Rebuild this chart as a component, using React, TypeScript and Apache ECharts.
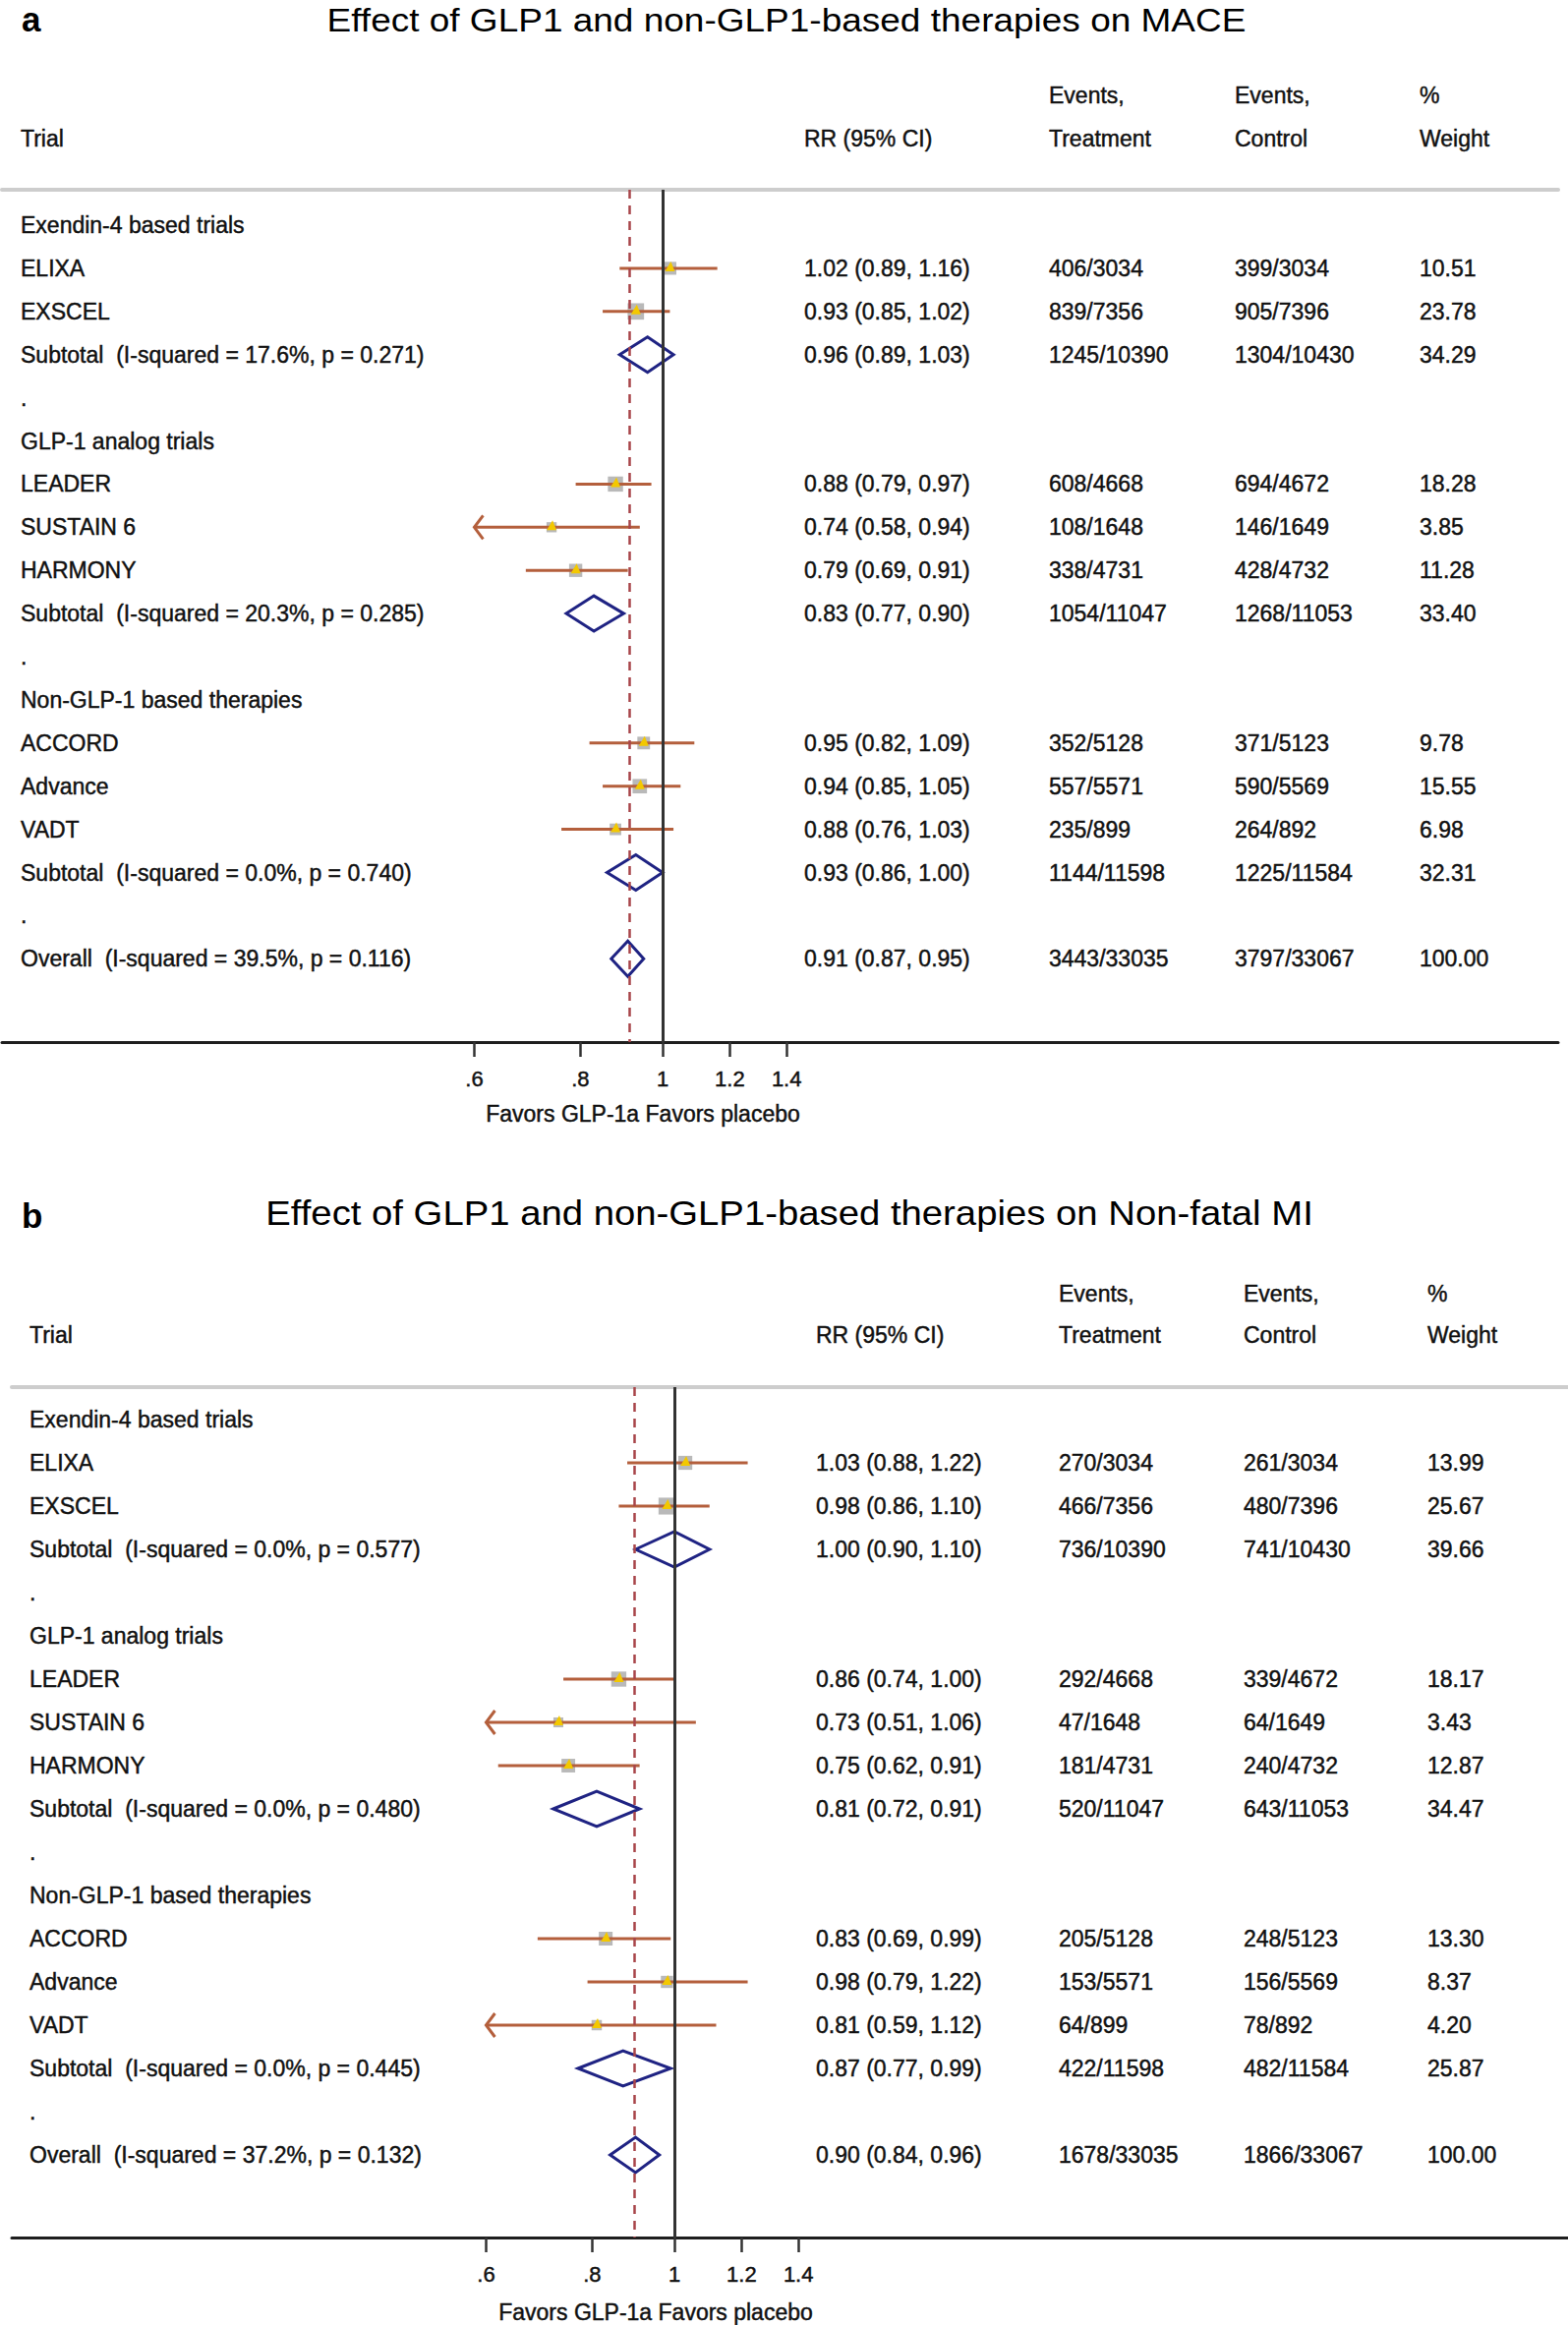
import React, { useEffect, useRef } from "react";
import * as echarts from "echarts";

const FONT = "'Liberation Sans', Arial, Helvetica, sans-serif";

// ---------- shared row structure ----------
const ROW_LABELS = [
  "Exendin-4 based trials", "ELIXA", "EXSCEL", "Subtotal", ".",
  "GLP-1 analog trials", "LEADER", "SUSTAIN 6", "HARMONY", "Subtotal", ".",
  "Non-GLP-1 based therapies", "ACCORD", "Advance", "VADT", "Subtotal", ".",
  "Overall",
];
const ROW_KINDS = [
  "group", "study", "study", "pooled", "blank",
  "group", "study", "study", "study", "pooled", "blank",
  "group", "study", "study", "study", "pooled", "blank",
  "pooled",
];
const HEAD_LINE_1 = ["", "", "Events,", "Events,", "%"];
const HEAD_LINE_2 = ["Trial", "RR (95% CI)", "Treatment", "Control", "Weight"];
const TICKS = [0.6, 0.8, 1, 1.2, 1.4];
const CLIP_MIN = 0.6;
const AXIS_TITLE = "Favors GLP-1a Favors placebo";

// ---------- panel a: MACE ----------
const A_LETTER = "a";
const A_TITLE = "Effect of GLP1 and non-GLP1-based therapies on MACE";
const A_RR = [null, 1.02, 0.93, 0.96, null, null, 0.88, 0.74, 0.79, 0.83, null, null, 0.95, 0.94, 0.88, 0.93, null, 0.91];
const A_LO = [null, 0.89, 0.85, 0.89, null, null, 0.79, 0.58, 0.69, 0.77, null, null, 0.82, 0.85, 0.76, 0.86, null, 0.87];
const A_HI = [null, 1.16, 1.02, 1.03, null, null, 0.97, 0.94, 0.91, 0.90, null, null, 1.09, 1.05, 1.03, 1.00, null, 0.95];
const A_EVT_T = [null, "406/3034", "839/7356", "1245/10390", null, null, "608/4668", "108/1648", "338/4731", "1054/11047", null, null, "352/5128", "557/5571", "235/899", "1144/11598", null, "3443/33035"];
const A_EVT_C = [null, "399/3034", "905/7396", "1304/10430", null, null, "694/4672", "146/1649", "428/4732", "1268/11053", null, null, "371/5123", "590/5569", "264/892", "1225/11584", null, "3797/33067"];
const A_WEIGHT = [null, 10.51, 23.78, 34.29, null, null, 18.28, 3.85, 11.28, 33.40, null, null, 9.78, 15.55, 6.98, 32.31, null, 100.00];
const A_I2 = [17.6, 20.3, 0.0, 39.5];
const A_P = [0.271, 0.285, 0.740, 0.116];

// ---------- panel b: Non-fatal MI ----------
const B_LETTER = "b";
const B_TITLE = "Effect of GLP1 and non-GLP1-based therapies on Non-fatal MI";
const B_RR = [null, 1.03, 0.98, 1.00, null, null, 0.86, 0.73, 0.75, 0.81, null, null, 0.83, 0.98, 0.81, 0.87, null, 0.90];
const B_LO = [null, 0.88, 0.86, 0.90, null, null, 0.74, 0.51, 0.62, 0.72, null, null, 0.69, 0.79, 0.59, 0.77, null, 0.84];
const B_HI = [null, 1.22, 1.10, 1.10, null, null, 1.00, 1.06, 0.91, 0.91, null, null, 0.99, 1.22, 1.12, 0.99, null, 0.96];
const B_EVT_T = [null, "270/3034", "466/7356", "736/10390", null, null, "292/4668", "47/1648", "181/4731", "520/11047", null, null, "205/5128", "153/5571", "64/899", "422/11598", null, "1678/33035"];
const B_EVT_C = [null, "261/3034", "480/7396", "741/10430", null, null, "339/4672", "64/1649", "240/4732", "643/11053", null, null, "248/5123", "156/5569", "78/892", "482/11584", null, "1866/33067"];
const B_WEIGHT = [null, 13.99, 25.67, 39.66, null, null, 18.17, 3.43, 12.87, 34.47, null, null, 13.30, 8.37, 4.20, 25.87, null, 100.00];
const B_I2 = [0.0, 0.0, 0.0, 37.2];
const B_P = [0.577, 0.480, 0.445, 0.132];

const PANELS = [
  { letter: A_LETTER, title: A_TITLE, rr: A_RR, lo: A_LO, hi: A_HI, evtT: A_EVT_T, evtC: A_EVT_C, weight: A_WEIGHT, i2: A_I2, p: A_P },
  { letter: B_LETTER, title: B_TITLE, rr: B_RR, lo: B_LO, hi: B_HI, evtT: B_EVT_T, evtC: B_EVT_C, weight: B_WEIGHT, i2: B_I2, p: B_P },
];

// ---------- layout (pixels) ----------
const PX_PER_LN = 375;
const LAYOUT = [
  { letterX: 22, letterY: 19, titleX: 800, titleY: 20, titleSize: 37, head1Y: 97, head2Y: 141, top: 193, axisY: 1060, left: 2, right: 1585, zeroX: 674, row0: 229, step: 43.9, cols: [21, 818, 1067, 1256, 1444], favorsX: 654, favorsY: 1133 },
  { letterX: 22, letterY: 1236, titleX: 803, titleY: 1234, titleSize: 38.3, head1Y: 1316, head2Y: 1358, top: 1411, axisY: 2276, left: 12, right: 1595, zeroX: 686, row0: 1444, step: 44, cols: [30, 830, 1077, 1265, 1452], favorsX: 667, favorsY: 2352 },
];

const CI_COLOR = "#b45f3c";
const BOX_COLOR = "#b9b9b9";
const EST_COLOR = "#f3c800";
const DIAMOND_COLOR = "#1f2383";
const TEXT_COLOR = "#111";
const TABLE_FONT_SIZE = 23;
const TEXT_BORDER = 0.45;

const POOLED_ROWS = ROW_KINDS.map((k, i) => (k === "pooled" ? i : -1)).filter((i) => i >= 0);

function fmtTick(v: number) {
  const s = String(Math.round(v * 10) / 10);
  return s.startsWith("0.") ? s.slice(1) : s;
}

function rowTexts(d: any, i: number): (string | null)[] {
  const kind = ROW_KINDS[i];
  if (kind === "group" || kind === "blank") return [ROW_LABELS[i]];
  const rr = `${d.rr[i].toFixed(2)} (${d.lo[i].toFixed(2)}, ${d.hi[i].toFixed(2)})`;
  let label = ROW_LABELS[i];
  if (kind === "pooled") {
    const j = POOLED_ROWS.indexOf(i);
    label = `${ROW_LABELS[i]}  (I-squared = ${d.i2[j].toFixed(1)}%, p = ${d.p[j].toFixed(3)})`;
  }
  return [label, rr, d.evtT[i], d.evtC[i], d.weight[i].toFixed(2)];
}

function tableStyle(text: string, extra: any = {}) {
  return {
    text, fill: TEXT_COLOR, fontSize: TABLE_FONT_SIZE, fontFamily: FONT,
    align: "left", verticalAlign: "middle",
    stroke: TEXT_COLOR, lineWidth: TEXT_BORDER,
    ...extra,
  };
}

function buildOption() {
  const grid: any[] = [];
  const xAxis: any[] = [];
  const yAxis: any[] = [];
  const series: any[] = [];
  const graphics: any[] = [];

  PANELS.forEach((d, k) => {
    const L = LAYOUT[k];
    const xMin = (L.left - L.zeroX) / PX_PER_LN;
    const xMax = (L.right - L.zeroX) / PX_PER_LN;
    const yMin = -(L.row0 - L.top) / L.step;
    const yMax = yMin + (L.axisY - L.top) / L.step;
    grid.push({ left: L.left, top: L.top, width: L.right - L.left, height: L.axisY - L.top, containLabel: false });
    const tickVals = TICKS.map((t) => Math.log(t));
    xAxis.push({
      gridIndex: k, type: "value", position: "bottom", min: xMin, max: xMax,
      axisLine: { show: true, onZero: false, lineStyle: { color: "#1e1e1e", width: 3 } },
      axisTick: { show: true, customValues: tickVals, length: 15, lineStyle: { color: "#333", width: 2.5 } },
      axisLabel: {
        show: true, customValues: tickVals, formatter: (v: number) => fmtTick(Math.exp(v)),
        margin: 26, fontSize: 22, color: TEXT_COLOR, fontFamily: FONT,
        textBorderColor: TEXT_COLOR, textBorderWidth: TEXT_BORDER,
      },
      splitLine: { show: false },
    });
    xAxis.push({
      gridIndex: k, type: "value", position: "top", min: xMin, max: xMax,
      axisLine: { show: true, onZero: false, lineStyle: { color: "#cdcdcd", width: 4 } },
      axisTick: { show: false }, axisLabel: { show: false }, splitLine: { show: false },
    });
    yAxis.push({ gridIndex: k, type: "value", inverse: true, min: yMin, max: yMax, show: false });

    const xi = 2 * k;
    const yi = k;

    // table text
    series.push({
      type: "custom", xAxisIndex: xi, yAxisIndex: yi, clip: false, silent: true, z: 4,
      data: ROW_LABELS.map((_, i) => [0, i]),
      encode: { x: 0, y: 1 },
      renderItem: (params: any, api: any) => {
        const i = api.value(1);
        const y = api.coord([0, i])[1];
        const texts = rowTexts(d, i);
        const children: any[] = [];
        texts.forEach((t, c) => {
          if (!t) return;
          children.push({ type: "text", x: L.cols[c], y, style: tableStyle(t) });
        });
        return { type: "group", children };
      },
    });

    // study estimates
    const studyData = ROW_KINDS.map((kind, i) =>
      kind === "study" ? [Math.log(d.rr[i]), Math.log(d.lo[i]), Math.log(d.hi[i]), i, d.weight[i]] : null
    ).filter(Boolean);
    series.push({
      type: "custom", xAxisIndex: xi, yAxisIndex: yi, clip: false, silent: true, z: 3,
      data: studyData,
      encode: { x: 0, y: 3 },
      renderItem: (params: any, api: any) => {
        const e = api.value(0), lo = api.value(1), hi = api.value(2), row = api.value(3), w = api.value(4);
        const clipLo = Math.log(CLIP_MIN);
        const clipped = lo < clipLo;
        const pE = api.coord([e, row]);
        const pL = api.coord([clipped ? clipLo : lo, row]);
        const pH = api.coord([hi, row]);
        const side = 6 + 2.2 * Math.sqrt(w);
        const children: any[] = [
          { type: "rect", shape: { x: pE[0] - side / 2, y: pE[1] - side / 2, width: side, height: side }, style: { fill: BOX_COLOR } },
          { type: "line", shape: { x1: pL[0], y1: pL[1], x2: pH[0], y2: pH[1] }, style: { stroke: CI_COLOR, lineWidth: 3 } },
        ];
        if (clipped) {
          children.push({
            type: "polyline",
            shape: { points: [[pL[0] + 9, pL[1] - 12], [pL[0], pL[1]], [pL[0] + 9, pL[1] + 12]] },
            style: { stroke: CI_COLOR, lineWidth: 3, fill: "none" },
          });
        }
        children.push({
          type: "polygon",
          shape: { points: [[pE[0] - 5, pE[1] + 3], [pE[0] + 5, pE[1] + 3], [pE[0] + 1, pE[1] - 7]] },
          style: { fill: EST_COLOR },
        });
        return { type: "group", children };
      },
    });

    // pooled diamonds
    const pooledData = POOLED_ROWS.map((i) => [Math.log(d.rr[i]), Math.log(d.lo[i]), Math.log(d.hi[i]), i]);
    series.push({
      type: "custom", xAxisIndex: xi, yAxisIndex: yi, clip: false, silent: true, z: 3,
      data: pooledData,
      encode: { x: 0, y: 3 },
      renderItem: (params: any, api: any) => {
        const e = api.value(0), lo = api.value(1), hi = api.value(2), row = api.value(3);
        const pE = api.coord([e, row]);
        const pL = api.coord([lo, row]);
        const pH = api.coord([hi, row]);
        const h = 18;
        return {
          type: "polygon",
          shape: { points: [[pL[0], pL[1]], [pE[0], pE[1] - h], [pH[0], pH[1]], [pE[0], pE[1] + h]] },
          style: { fill: "none", stroke: DIAMOND_COLOR, lineWidth: 3 },
        };
      },
    });

    // reference lines: null effect and overall estimate
    const overallIdx = ROW_KINDS.length - 1;
    series.push({
      type: "line", xAxisIndex: xi, yAxisIndex: yi, data: [], z: 5, silent: true,
      markLine: {
        silent: true, symbol: ["none", "none"], label: { show: false },
        data: [
          { xAxis: 0, lineStyle: { color: "#333", width: 3, type: "solid" } },
          { xAxis: Math.log(d.rr[overallIdx]), lineStyle: { color: "#a8454a", width: 2.5, type: [9, 7] } },
        ],
      },
    });

    // texts outside the table
    graphics.push({
      type: "text", x: L.letterX, y: L.letterY,
      style: { text: d.letter, fontSize: 35, fontWeight: "bold", fill: "#000", fontFamily: FONT, align: "left", verticalAlign: "middle" },
    });
    graphics.push({
      type: "text", x: L.titleX, y: L.titleY, scaleY: 0.9,
      style: { text: d.title, fontSize: L.titleSize, fill: "#000", fontFamily: FONT, align: "center", verticalAlign: "middle" },
    });
    HEAD_LINE_1.forEach((t, c) => {
      if (!t) return;
      graphics.push({ type: "text", x: L.cols[c], y: L.head1Y, style: tableStyle(t) });
    });
    HEAD_LINE_2.forEach((t, c) => {
      graphics.push({ type: "text", x: L.cols[c], y: L.head2Y, style: tableStyle(t) });
    });
    graphics.push({
      type: "text", x: L.favorsX, y: L.favorsY,
      style: tableStyle(AXIS_TITLE, { align: "center", fontSize: 23 }),
    });
  });

  return {
    animation: false,
    backgroundColor: "#ffffff",
    grid, xAxis, yAxis, series,
    graphic: { elements: graphics },
  };
}

export default function App() {
  const ref = useRef<HTMLDivElement>(null);
  useEffect(() => {
    if (!ref.current) return;
    const chart = echarts.init(ref.current, null, { renderer: "svg" });
    chart.setOption(buildOption() as any);
    return () => chart.dispose();
  }, []);
  return (
    <div
      ref={ref}
      style={{ position: "absolute", left: 0, top: 0, width: 1595, height: 2365, background: "#fff" }}
    />
  );
}
